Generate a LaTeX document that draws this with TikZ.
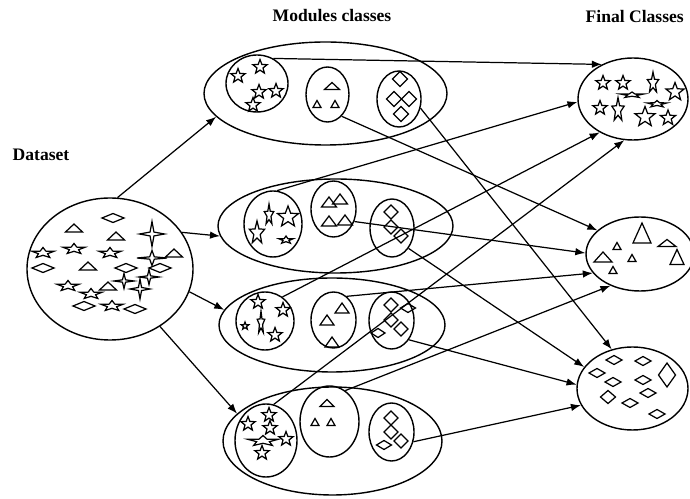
\documentclass[tikz,border=0pt]{standalone}
\usepackage{fontspec}
\setmainfont{Liberation Serif}
\usetikzlibrary{shapes.geometric,arrows.meta}
\tikzset{
    cls/.style={ellipse, draw, line width=0.8pt, inner sep=0pt},
    lnk/.style={-{Latex[length=2mm,width=1.5mm]}, line width=0.7pt},
    ttl/.style={font=\bfseries\fontsize{10}{12}\selectfont},
    str/.pic={\draw[line width=0.7pt] (90:1) \foreach \a in {0,72,144,216} {-- (\a+126:0.42) -- (\a+162:1)} -- (414:0.42) -- cycle;},
    spk/.pic={\draw[line width=0.7pt] (0:1) -- (45:0.22) -- (90:1) -- (135:0.22) -- (180:1) -- (225:0.22) -- (270:1) -- (315:0.22) -- cycle;},
    tri/.pic={\draw[line width=0.7pt] (-1,-0.5) -- (1,-0.5) -- (0,0.5) -- cycle;},
    dia/.pic={\draw[line width=0.7pt] (1,0) -- (0,1) -- (-1,0) -- (0,-1) -- cycle;}
}
\begin{document}
\begin{tikzpicture}
    \useasboundingbox (0,0) rectangle (13.8,9.96);

    \node[ttl] (mod) at (6.64,9.64) {Modules classes};
    \node[ttl, anchor=east] (fin) at (13.8,9.64) {Final Classes};
    \node[ttl] (dset) at (0.82,6.86) {Dataset};

    \node[cls, minimum width=3.32cm, minimum height=2.84cm] (data) at (2.20,4.58) {};

    \node[cls, minimum width=4.86cm, minimum height=2.06cm] (m1) at (6.51,8.09) {};
    \node[cls, minimum width=1.24cm, minimum height=1.14cm] (m1s) at (5.14,8.29) {};
    \node[cls, minimum width=0.86cm, minimum height=1.10cm] (m1t) at (6.55,8.07) {};
    \node[cls, minimum width=0.88cm, minimum height=1.12cm] (m1d) at (7.98,7.98) {};

    \node[cls, minimum width=4.70cm, minimum height=1.88cm] (m2) at (6.71,5.44) {};
    \node[cls, minimum width=1.16cm, minimum height=1.32cm] (m2s) at (5.46,5.48) {};
    \node[cls, minimum width=0.90cm, minimum height=1.12cm] (m2t) at (6.67,5.78) {};
    \node[cls, minimum width=0.88cm, minimum height=1.16cm] (m2d) at (7.84,5.40) {};

    \node[cls, minimum width=4.52cm, minimum height=1.88cm] (m3) at (6.64,3.46) {};
    \node[cls, minimum width=1.16cm, minimum height=1.16cm] (m3s) at (5.30,3.54) {};
    \node[cls, minimum width=0.90cm, minimum height=1.12cm] (m3t) at (6.67,3.56) {};
    \node[cls, minimum width=0.90cm, minimum height=1.14cm] (m3d) at (7.83,3.55) {};

    \node[cls, minimum width=4.38cm, minimum height=2.16cm] (m4) at (6.65,1.14) {};
    \node[cls, minimum width=1.24cm, minimum height=1.46cm] (m4s) at (5.32,1.15) {};
    \node[cls, minimum width=1.18cm, minimum height=1.42cm] (m4t) at (6.59,1.53) {};
    \node[cls, minimum width=0.90cm, minimum height=1.16cm] (m4d) at (7.83,1.32) {};

    \node[cls, minimum width=2.20cm, minimum height=1.64cm] (fs) at (12.66,7.98) {};
    \node[cls, minimum width=2.16cm, minimum height=1.48cm] (ft) at (12.80,4.88) {};
    \node[cls, minimum width=2.22cm, minimum height=1.66cm] (fd) at (12.65,2.19) {};

    \foreach \x/\y/\a/\b in {0.86/4.90/.23/.11, 1.48/4.98/.23/.11, 2.20/4.90/.23/.11, 1.36/4.24/.23/.11, 1.82/4.08/.23/.11, 2.24/3.84/.23/.11,
        5.20/8.62/.15/.15, 4.76/8.44/.15/.15, 5.18/8.12/.15/.15, 5.52/8.14/.15/.15, 5.06/7.86/.15/.15,
        5.76/5.62/.22/.22, 5.38/5.66/.10/.22, 5.14/5.30/.16/.24, 5.72/5.16/.15/.08,
        5.16/3.92/.15/.15, 5.66/3.76/.15/.15, 4.90/3.44/.08/.08, 5.22/3.50/.08/.24, 5.50/3.26/.15/.15,
        5.38/1.66/.15/.15, 4.96/1.48/.15/.15, 5.40/1.40/.15/.15, 5.26/1.14/.32/.11, 5.72/1.18/.15/.15, 5.24/0.90/.15/.15,
        12.06/8.30/.15/.15, 12.46/8.30/.15/.15, 13.06/8.30/.12/.22, 13.50/8.12/.19/.19, 12.64/8.06/.24/.06,
        13.14/7.88/.21/.07, 12.00/7.80/.15/.15, 12.36/7.76/.13/.25, 12.90/7.62/.21/.21, 13.36/7.60/.16/.16}
        \pic[xscale=\a, yscale=\b] at (\x,\y) {str};

    \foreach \x/\y/\a/\b in {3.04/5.28/0.25/0.25, 3.04/4.80/0.30/0.15, 2.48/4.34/0.20/0.15, 2.98/4.42/0.20/0.15, 2.80/4.18/0.20/0.20}
        \pic[xscale=\a, yscale=\b] at (\x,\y) {spk};

    \foreach \x/\y/\a/\b in {1.48/5.40/.17/.16, 2.32/5.24/.17/.16, 3.48/4.90/.17/.16, 1.76/4.64/.17/.16, 2.16/4.24/.17/.16,
        6.64/8.24/.15/.14, 6.34/7.88/.08/.14, 6.70/7.88/.08/.14,
        6.80/5.98/.15/.2, 6.58/5.92/.15/.2, 6.58/5.54/.15/.2, 6.90/5.56/.15/.2,
        6.84/3.80/.14/.2, 6.54/3.56/.14/.2, 6.64/3.12/.14/.2,
        6.54/1.90/.14/.14, 6.30/1.52/.08/.14, 6.62/1.52/.08/.14,
        12.84/5.30/.18/.40, 12.34/5.04/.08/.14, 12.06/4.82/.18/.2, 12.64/4.80/.08/.14, 12.26/4.56/.08/.14, 13.34/5.10/.18/.14, 13.54/4.82/.14/.3}
        \pic[xscale=\a, yscale=\b] at (\x,\y) {tri};

    \foreach \x/\y/\a/\b in {2.26/5.60/.22/.09, 0.86/4.60/.22/.09, 2.52/4.60/.22/.09, 3.20/4.60/.22/.09, 1.68/3.84/.22/.09, 2.70/3.78/.22/.09,
        8.00/8.38/.15/.15, 7.88/7.98/.15/.15, 8.18/7.98/.15/.15, 8.02/7.68/.15/.15,
        7.82/5.72/.14/.14, 7.82/5.42/.14/.14, 8.02/5.24/.14/.14,
        7.82/3.86/.14/.14, 8.16/3.80/.15/.09, 7.82/3.56/.14/.14, 8.02/3.38/.14/.14, 7.56/3.30/.14/.09,
        7.82/1.60/.14/.14, 7.82/1.32/.14/.14, 8.02/1.14/.14/.14, 7.68/1.06/.15/.09,
        12.28/2.76/.16/.09, 12.86/2.74/.16/.09, 13.34/2.46/.17/.24, 11.94/2.50/.16/.09, 12.26/2.32/.16/.09,
        12.86/2.36/.16/.09, 12.16/2.02/.15/.13, 12.96/2.10/.16/.09, 12.60/1.90/.16/.09, 13.14/1.68/.16/.09}
        \pic[xscale=\a, yscale=\b] at (\x,\y) {dia};

    \draw[lnk] (data.84) -- (m1.192);
    \draw[lnk] (data.27) -- (m2.185);
    \draw[lnk] (data.344) -- (m3.172);
    \draw[lnk] (data.311) -- (m4.164);

    \draw[lnk] (m1s.57) -- (fs.132);
    \draw[lnk] (m1t.303) -- (ft.151);
    \draw[lnk] (m1d.337) -- (fd.118);
    \draw[lnk] (m2s.83) -- (fs.183);
    \draw[lnk] (m2t.329) -- (ft.179);
    \draw[lnk] (m2d.309) -- (fd.156);
    \draw[lnk] (m3s.54) -- (fs.225);
    \draw[lnk] (m3t.61) -- (ft.202);
    \draw[lnk] (m3d.312) -- (fd.176);
    \draw[lnk] (m4s.78) -- (fs.258);
    \draw[lnk] (m4t.63) -- (ft.227);
    \draw[lnk] (m4d.336) -- (fd.198);
\end{tikzpicture}
\end{document}
